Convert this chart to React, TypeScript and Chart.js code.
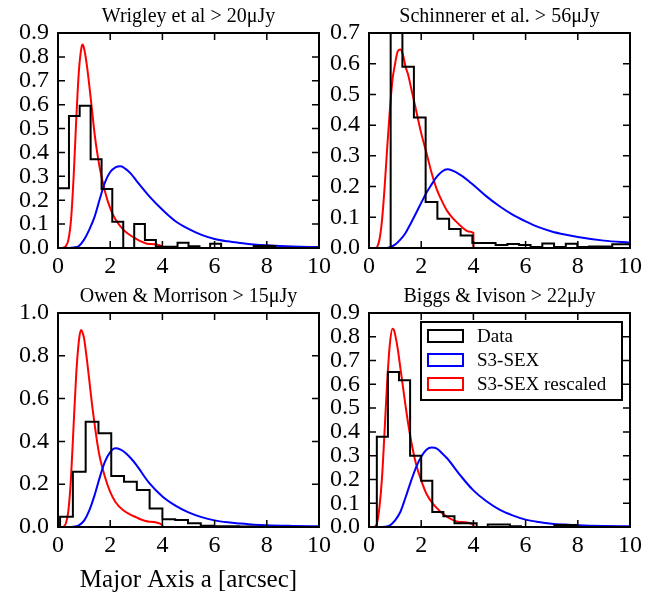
import React, { useEffect, useRef } from 'react';
import { Chart, registerables } from 'chart.js';

Chart.register(...registerables);

const FONT = '"Liberation Serif", "Times New Roman", serif';

// ---------- tick values ----------
const xTicks = [0, 2, 4, 6, 8, 10];
const yTicks09 = [0, 0.1, 0.2, 0.3, 0.4, 0.5, 0.6, 0.7, 0.8, 0.9];
const yTicks07 = [0, 0.1, 0.2, 0.3, 0.4, 0.5, 0.6, 0.7];
const yTicks10 = [0, 0.2, 0.4, 0.6, 0.8, 1.0];

const legendLabels = ['Data', 'S3-SEX', 'S3-SEX rescaled'];

// ---------- shared x positions for the S3-SEX curves ----------
const blueX = [0, 0.4, 0.6, 0.8, 1.0, 1.2, 1.4, 1.6, 1.8, 2.0, 2.2, 2.4, 2.6, 2.8, 3.0, 3.5, 4.0, 4.5, 5.0, 5.5, 6.0, 6.5, 7.0, 7.5, 8.0, 9.0, 10.0];

// ---------- Panel 1: Wrigley et al > 20 uJy ----------
const edges1 = [0, 0.42, 0.83, 1.25, 1.67, 2.08, 2.5, 2.92, 3.33, 3.75, 4.17, 4.58, 5.0, 5.42, 5.83, 6.25, 6.67, 7.08, 7.5, 7.92, 8.33, 8.75, 9.17, 9.58, 10.0];
const counts1 = [0.25, 0.553, 0.595, 0.371, 0.247, 0.11, 0, 0.1, 0.033, 0.005, 0.005, 0.022, 0.007, 0, 0.018, 0, 0, 0, 0.008, 0.008, 0, 0, 0, 0];
const blue1 = [0, 0, 0.002, 0.008, 0.035, 0.077, 0.13, 0.205, 0.275, 0.318, 0.338, 0.342, 0.33, 0.31, 0.282, 0.216, 0.16, 0.112, 0.08, 0.055, 0.038, 0.028, 0.021, 0.015, 0.011, 0.006, 0.004];
const redX1 = [0.15, 0.3, 0.4, 0.5, 0.6, 0.7, 0.8, 0.9, 0.95, 1.0, 1.1, 1.2, 1.3, 1.4, 1.5, 1.6, 1.8, 2.0, 2.2, 2.5, 3.0, 3.5, 4.0, 4.005];
const red1 = [0, 0.008, 0.035, 0.12, 0.3, 0.54, 0.74, 0.84, 0.852, 0.835, 0.77, 0.68, 0.58, 0.48, 0.4, 0.335, 0.237, 0.167, 0.12, 0.077, 0.038, 0.017, 0.007, 0];

// ---------- Panel 2: Schinnerer et al. > 56 uJy ----------
const edges2 = [0.83, 1.28, 1.72, 2.17, 2.62, 3.07, 3.51, 3.96, 4.41, 4.85, 5.3, 5.75, 6.19, 6.64, 7.09, 7.54, 7.98, 8.43, 8.88, 9.32, 9.77, 10.22];
const counts2 = [0.8, 0.59, 0.425, 0.15, 0.095, 0.062, 0.041, 0.016, 0.016, 0.01, 0.013, 0.01, 0.003, 0.015, 0.003, 0.014, 0.003, 0.005, 0.005, 0.012, 0.012];
const blue2 = [0, 0, 0, 0.003, 0.011, 0.027, 0.049, 0.08, 0.113, 0.147, 0.18, 0.207, 0.232, 0.249, 0.256, 0.238, 0.205, 0.168, 0.136, 0.109, 0.087, 0.068, 0.054, 0.044, 0.036, 0.024, 0.017];
const redX2 = [0.3, 0.4, 0.5, 0.6, 0.7, 0.8, 0.9, 1.0, 1.1, 1.2, 1.3, 1.4, 1.5, 1.6, 1.8, 2.0, 2.2, 2.4, 2.6, 2.8, 3.0, 3.2, 3.4, 3.6, 3.8, 4.0, 4.005];
const red2 = [0, 0.027, 0.092, 0.2, 0.33, 0.45, 0.548, 0.6, 0.64, 0.646, 0.63, 0.59, 0.564, 0.526, 0.45, 0.374, 0.31, 0.244, 0.19, 0.152, 0.12, 0.098, 0.081, 0.065, 0.054, 0.049, 0];

// ---------- Panel 3: Owen & Morrison > 15 uJy ----------
const edges3 = [0.08, 0.57, 1.06, 1.55, 2.04, 2.53, 3.02, 3.51, 4.0, 4.49, 4.98, 5.47, 5.96, 6.45, 6.94, 7.43, 7.92, 8.41, 8.9, 9.39, 9.88, 10.37];
const counts3 = [0.048, 0.258, 0.492, 0.438, 0.238, 0.212, 0.173, 0.087, 0.036, 0.033, 0.017, 0.006, 0.004, 0.003, 0.002, 0.001, 0, 0, 0, 0, 0];
const blue3 = [0, 0, 0.001, 0.008, 0.03, 0.078, 0.148, 0.232, 0.305, 0.35, 0.368, 0.362, 0.345, 0.32, 0.29, 0.205, 0.143, 0.1, 0.068, 0.046, 0.031, 0.022, 0.016, 0.011, 0.008, 0.005, 0.003];
const redX3 = [0.2, 0.3, 0.4, 0.5, 0.6, 0.7, 0.8, 0.88, 0.95, 1.0, 1.1, 1.2, 1.3, 1.4, 1.5, 1.6, 1.8, 2.0, 2.2, 2.5, 3.0, 3.5, 4.0, 4.005];
const red3 = [0, 0.016, 0.078, 0.234, 0.48, 0.717, 0.87, 0.92, 0.905, 0.88, 0.79, 0.685, 0.576, 0.483, 0.397, 0.327, 0.234, 0.164, 0.117, 0.078, 0.045, 0.025, 0.009, 0];

// ---------- Panel 4: Biggs & Ivison > 22 uJy ----------
const edges4 = [0.3, 0.725, 1.15, 1.575, 2.0, 2.425, 2.85, 3.275, 3.7, 4.125, 4.55, 4.975, 5.4, 5.825, 6.25, 6.675, 7.1, 7.525, 7.95, 8.375, 8.8, 9.225, 9.65, 10.075];
const counts4 = [0.38, 0.652, 0.617, 0.3, 0.195, 0.063, 0.045, 0.016, 0.016, 0, 0.01, 0.01, 0.003, 0, 0, 0, 0.008, 0.008, 0, 0, 0, 0, 0];
const blue4 = [0, 0, 0.001, 0.007, 0.028, 0.063, 0.124, 0.19, 0.25, 0.295, 0.325, 0.334, 0.33, 0.31, 0.288, 0.217, 0.154, 0.108, 0.073, 0.049, 0.031, 0.021, 0.014, 0.01, 0.007, 0.004, 0.003];
const redX4 = [0.2, 0.3, 0.4, 0.5, 0.6, 0.7, 0.8, 0.9, 0.95, 1.0, 1.1, 1.2, 1.3, 1.4, 1.5, 1.6, 1.8, 2.0, 2.2, 2.5, 3.0, 3.5, 4.0, 4.005];
const red4 = [0, 0.014, 0.084, 0.21, 0.41, 0.617, 0.77, 0.834, 0.83, 0.81, 0.75, 0.67, 0.59, 0.51, 0.435, 0.37, 0.266, 0.196, 0.14, 0.091, 0.042, 0.021, 0.01, 0];

// ---------- helpers ----------
function histPoints(edges: number[], counts: number[]) {
  const pts = [{ x: edges[0], y: 0 }];
  counts.forEach((c, i) => pts.push({ x: edges[i], y: c }));
  pts.push({ x: edges[counts.length], y: 0 });
  return pts;
}
function zip(xs: number[], ys: number[]) {
  return xs.map((x, i) => ({ x, y: ys[i] }));
}

const framePlugin = {
  id: 'frameTicks',
  afterDatasetsDraw(chart: any) {
    const { ctx, chartArea } = chart;
    const { left, right, top, bottom } = chartArea;
    const xs = chart.scales.x;
    const ys = chart.scales.y;
    const L = 7;
    ctx.save();
    ctx.strokeStyle = '#000';
    ctx.lineWidth = 1.5;
    ctx.beginPath();
    xs.ticks.forEach((t: any) => {
      const px = xs.getPixelForValue(t.value);
      if (px > left + 1 && px < right - 1) {
        ctx.moveTo(px, bottom);
        ctx.lineTo(px, bottom - L);
        ctx.moveTo(px, top);
        ctx.lineTo(px, top + L);
      }
    });
    ys.ticks.forEach((t: any) => {
      const py = ys.getPixelForValue(t.value);
      if (py > top + 1 && py < bottom - 1) {
        ctx.moveTo(left, py);
        ctx.lineTo(left + L, py);
        ctx.moveTo(right, py);
        ctx.lineTo(right - L, py);
      }
    });
    ctx.stroke();
    ctx.lineWidth = 2;
    ctx.strokeRect(left, top, right - left, bottom - top);
    ctx.restore();
  },
};

const legendPlugin = {
  id: 'boxLegend',
  afterDraw(chart: any) {
    const { ctx, chartArea } = chart;
    const w = 201;
    const h = 78;
    const right = chartArea.right - 8;
    const top = chartArea.top + 9;
    const left = right - w;
    ctx.save();
    ctx.fillStyle = '#fff';
    ctx.fillRect(left, top, w, h);
    ctx.strokeStyle = '#000';
    ctx.lineWidth = 2;
    ctx.strokeRect(left, top, w, h);
    chart.data.datasets.forEach((ds: any, i: number) => {
      const cy = top + 14 + i * 24;
      ctx.strokeStyle = ds.borderColor;
      ctx.lineWidth = 2;
      ctx.strokeRect(left + 7, cy - 6, 35, 12);
      ctx.fillStyle = '#000';
      ctx.font = `19px ${FONT}`;
      ctx.textAlign = 'left';
      ctx.textBaseline = 'middle';
      ctx.fillText(ds.label, left + 56, cy + 1);
    });
    ctx.restore();
  },
};

type PanelSpec = {
  title: string;
  edges: number[];
  counts: number[];
  blue: number[];
  redX: number[];
  red: number[];
  yMax: number;
  yTicks: number[];
  xHeight: number;
  xTitle?: string;
  legend?: boolean;
};

function makeConfig(p: PanelSpec): any {
  const tickFont = { family: FONT, size: 24 };
  return {
    type: 'line',
    data: {
      datasets: [
        {
          label: legendLabels[0],
          data: histPoints(p.edges, p.counts),
          borderColor: '#000000',
          backgroundColor: 'rgba(0,0,0,0)',
          borderWidth: 2,
          stepped: 'before',
          pointRadius: 0,
          fill: false,
        },
        {
          label: legendLabels[1],
          data: zip(blueX, p.blue),
          borderColor: '#0000ff',
          backgroundColor: 'rgba(0,0,0,0)',
          borderWidth: 2,
          cubicInterpolationMode: 'monotone',
          pointRadius: 0,
          fill: false,
        },
        {
          label: legendLabels[2],
          data: zip(p.redX, p.red),
          borderColor: '#ff0000',
          backgroundColor: 'rgba(0,0,0,0)',
          borderWidth: 2,
          cubicInterpolationMode: 'monotone',
          pointRadius: 0,
          fill: false,
        },
      ],
    },
    options: {
      animation: false,
      responsive: false,
      events: [],
      layout: { padding: { left: 0, right: 21, top: 0, bottom: 0 } },
      plugins: {
        legend: { display: false },
        tooltip: { enabled: false },
        title: {
          display: true,
          fullSize: false,
          text: p.title,
          color: '#000',
          font: { family: FONT, size: 20, weight: 'normal' },
          padding: { top: 5, bottom: 4 },
        },
      },
      scales: {
        x: {
          type: 'linear',
          min: 0,
          max: 10,
          afterBuildTicks: (s: any) => {
            s.ticks = xTicks.map((v) => ({ value: v }));
          },
          afterFit: (s: any) => {
            s.height = p.xHeight;
          },
          grid: { display: false, drawTicks: false },
          border: { display: false },
          ticks: {
            color: '#000',
            font: tickFont,
            padding: 4,
            maxRotation: 0,
            autoSkip: false,
            callback: (v: any) => String(v),
          },
          title: p.xTitle
            ? {
                display: true,
                text: p.xTitle,
                color: '#000',
                font: { family: FONT, size: 25 },
                padding: { top: 0, bottom: 0 },
              }
            : { display: false },
        },
        y: {
          type: 'linear',
          min: 0,
          max: p.yMax,
          afterBuildTicks: (s: any) => {
            s.ticks = p.yTicks.map((v) => ({ value: v }));
          },
          afterFit: (s: any) => {
            s.width = 58;
          },
          grid: { display: false, drawTicks: false },
          border: { display: false },
          ticks: {
            color: '#000',
            font: tickFont,
            padding: 9,
            autoSkip: false,
            callback: (v: any) => Number(v).toFixed(1),
          },
        },
      },
    },
    plugins: p.legend ? [framePlugin, legendPlugin] : [framePlugin],
  };
}

const panels: { spec: PanelSpec; left: number; top: number; height: number }[] = [
  {
    spec: { title: 'Wrigley et al > 20μJy', edges: edges1, counts: counts1, blue: blue1, redX: redX1, red: red1, yMax: 0.9, yTicks: yTicks09, xHeight: 42 },
    left: 0, top: 0, height: 290,
  },
  {
    spec: { title: 'Schinnerer et al. > 56μJy', edges: edges2, counts: counts2, blue: blue2, redX: redX2, red: red2, yMax: 0.7, yTicks: yTicks07, xHeight: 42 },
    left: 311, top: 0, height: 290,
  },
  {
    spec: { title: 'Owen & Morrison > 15μJy', edges: edges3, counts: counts3, blue: blue3, redX: redX3, red: red3, yMax: 1.0, yTicks: yTicks10, xHeight: 68, xTitle: 'Major Axis a [arcsec]' },
    left: 0, top: 280, height: 315,
  },
  {
    spec: { title: 'Biggs & Ivison > 22μJy', edges: edges4, counts: counts4, blue: blue4, redX: redX4, red: red4, yMax: 0.9, yTicks: yTicks09, xHeight: 68, legend: true },
    left: 311, top: 280, height: 315,
  },
];

function Panel({ spec, left, top, height }: { spec: PanelSpec; left: number; top: number; height: number }) {
  const ref = useRef<HTMLCanvasElement | null>(null);
  useEffect(() => {
    if (!ref.current) return;
    const chart = new Chart(ref.current, makeConfig(spec));
    return () => chart.destroy();
  }, []);
  return (
    <canvas
      ref={ref}
      width={340}
      height={height}
      style={{ position: 'absolute', left, top, width: 340, height }}
    />
  );
}

export default function App() {
  return (
    <div style={{ position: 'absolute', left: 0, top: 0, width: 653, height: 595, background: '#fff', overflow: 'hidden' }}>
      {panels.map((p, i) => (
        <Panel key={i} spec={p.spec} left={p.left} top={p.top} height={p.height} />
      ))}
    </div>
  );
}
